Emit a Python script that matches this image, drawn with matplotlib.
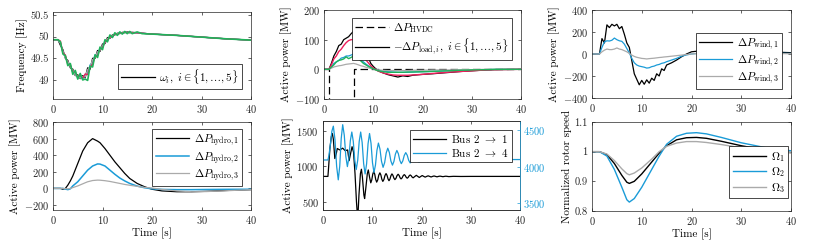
import numpy as np
import matplotlib
matplotlib.use("Agg")
import matplotlib.pyplot as plt

plt.rcParams['font.family'] = 'serif'
plt.rcParams['font.serif'] = ['cmr10']
plt.rcParams['mathtext.fontset'] = 'cm'
plt.rcParams['axes.unicode_minus'] = False
plt.rcParams['axes.formatter.use_mathtext'] = True

BLACK = '#000000'
BLUE = '#1a9bd7'
GRAY = '#aaaaaa'
RED = '#ee1f5c'
GREEN = '#1fb35a'

# ---- frequency of the five generators [Hz]
t_freq = [0, 1, 1.5, 2, 2.5, 3, 3.5, 4, 4.5, 5, 5.5, 6, 6.5, 7, 7.5, 8, 8.5, 9, 9.5, 10,
          10.5, 11, 11.5, 12, 12.5, 13, 13.5, 14, 14.5, 15, 15.5, 16, 17, 18, 20, 25, 30, 35, 40]
f_black = [49.93, 49.93, 49.80, 49.70, 49.50, 49.45, 49.28, 49.25, 49.10, 49.12, 49.03, 49.10, 49.05,
           49.28, 49.25, 49.50, 49.50, 49.68, 49.66, 49.83, 49.84, 49.98, 49.96, 50.04, 50.04, 50.08,
           50.07, 50.10, 50.09, 50.11, 50.09, 50.10, 50.09, 50.08, 50.06, 50.03, 49.99, 49.95, 49.92]
f_red = [49.93, 49.93, 49.90, 49.62, 49.58, 49.35, 49.36, 49.17, 49.20, 49.05, 49.12, 49.04, 49.14,
         49.12, 49.30, 49.36, 49.55, 49.56, 49.72, 49.74, 49.88, 49.92, 49.99, 50.00, 50.06, 50.05,
         50.09, 50.08, 50.11, 50.09, 50.11, 50.09, 50.09, 50.08, 50.06, 50.03, 49.99, 49.95, 49.92]
f_blue = [49.93, 49.93, 49.86, 49.64, 49.55, 49.38, 49.34, 49.18, 49.16, 49.05, 49.09, 49.02, 49.12,
          49.16, 49.35, 49.40, 49.58, 49.59, 49.74, 49.75, 49.90, 49.91, 50.01, 49.99, 50.07, 50.05,
          50.10, 50.08, 50.11, 50.09, 50.11, 50.09, 50.09, 50.08, 50.06, 50.03, 49.99, 49.95, 49.92]
f_gray = [49.93, 49.93, 49.84, 49.67, 49.50, 49.43, 49.30, 49.23, 49.11, 49.10, 49.04, 49.08, 49.07,
          49.24, 49.30, 49.47, 49.52, 49.65, 49.68, 49.80, 49.86, 49.96, 49.97, 50.03, 50.05, 50.07,
          50.08, 50.09, 50.10, 50.10, 50.10, 50.09, 50.09, 50.08, 50.06, 50.03, 49.99, 49.95, 49.92]
f_green = [49.93, 49.93, 49.88, 49.60, 49.56, 49.33, 49.38, 49.13, 49.22, 49.02, 49.15, 49.00, 49.02,
           48.99, 49.32, 49.30, 49.58, 49.52, 49.76, 49.70, 49.93, 49.88, 50.04, 49.98, 50.09, 50.03,
           50.11, 50.06, 50.12, 50.07, 50.12, 50.07, 50.11, 50.07, 50.06, 50.03, 49.99, 49.95, 49.92]

# ---- HVDC and load power [MW]
t_hvdc = [0, 1, 1, 6, 6, 40]
p_hvdc = [0, 0, -1000, -1000, 2, 2]
t_load = [0, 1, 1.5, 2, 2.5, 3, 3.5, 4, 4.5, 5, 5.5, 6, 6.5, 7, 7.5, 8, 8.5, 9, 9.5, 10, 10.5, 11,
          12, 13, 14, 15, 16, 17, 18, 20, 22, 25, 28, 30, 33, 35, 40]
load_black = [0, 0, 20, 45, 60, 80, 85, 100, 105, 110, 120, 128, 100, 110, 75, 70, 45, 40, 20, 10, 2, -5,
              -12, -18, -22, -26, -22, -24, -20, -17, -15, -11, -7, -5, -2, -1, 0]
load_red = [0, 0, 15, 35, 45, 60, 68, 80, 90, 97, 100, 100, 90, 75, 60, 45, 32, 22, 12, 5, -1, -6,
            -12, -16, -19, -20, -20, -20, -19, -17, -14, -10, -7, -5, -2, -1, 0]
load_blue = [0, 0, 8, 20, 25, 30, 38, 40, 45, 45, 48, 52, 45, 40, 32, 25, 18, 12, 7, 3, 0, -3,
             -6, -8, -9, -10, -10, -10, -9, -8, -7, -5, -3, -2, -1, 0, 0]
load_green = [0, 0, 8, 15, 25, 30, 32, 35, 42, 36, 40, 45, 40, 35, 28, 20, 15, 10, 6, 2, -2, -5,
              -8, -10, -10, -10, -10, -9, -9, -8, -7, -5, -3, -2, -1, 0, 0]
load_gray = [0, 0, 4, 8, 10, 12, 13, 15, 17, 18, 19, 20, 18, 15, 12, 10, 7, 5, 3, 1, -1, -2,
             -3, -4, -4, -4, -4, -4, -3, -3, -2, -2, -1, -1, 0, 0, 0]

# ---- wind power [MW]
t_wind = [0, 1.5, 2, 2.5, 3, 3.5, 4, 4.5, 5, 5.5, 6, 6.5, 7, 7.5, 8, 8.5, 9, 9.5, 10, 10.5, 11,
          11.5, 12, 12.5, 13, 13.5, 14, 14.5, 15, 16, 17, 18, 19, 20, 21, 22, 24, 26, 30, 35, 40]
wind_1 = [0, 0, 140, 100, 265, 240, 270, 255, 270, 230, 250, 180, 100, 60, -60, -180, -230, -280, -240,
          -275, -235, -265, -220, -240, -180, -200, -135, -150, -100, -80, -55, -25, 0, 20, 25, 40, 45,
          40, 30, 20, 12]
wind_2 = [0, 0, 60, 110, 120, 118, 125, 145, 130, 120, 115, 90, 50, 10, -40, -80, -100, -110, -115,
          -120, -128, -125, -115, -110, -100, -95, -85, -80, -70, -55, -40, -20, -8, 0, 5, 10, 12, 12,
          10, 8, 5]
wind_3 = [0, 0, 20, 35, 45, 40, 40, 45, 55, 45, 40, 30, 20, 5, -10, -22, -30, -35, -40, -42, -45, -42,
          -40, -38, -35, -32, -30, -27, -25, -20, -15, -10, -5, 0, 3, 5, 5, 5, 5, 4, 3]

# ---- hydro power [MW]
t_hydro = [0, 1.5, 2, 2.5, 3, 3.5, 4, 5, 6, 6.5, 7, 8, 9, 9.5, 10.5, 11.5, 12.5, 13.5, 14.5, 15.5,
           17, 18.5, 20, 22, 25, 28, 31, 35, 40]
hydro_1 = [0, 0, -10, 0, 40, 90, 150, 300, 450, 500, 550, 600, 570, 550, 480, 400, 320, 250, 180, 120,
           60, 20, -10, -30, -40, -40, -35, -25, -15]
hydro_2 = [0, 0, 0, -8, -15, -5, 30, 80, 150, 185, 220, 270, 295, 293, 270, 220, 170, 125, 90, 60,
           28, 8, -5, -12, -15, -15, -13, -11, -10]
hydro_3 = [0, 0, 0, -3, -5, 0, 10, 30, 55, 68, 80, 95, 100, 99, 93, 84, 72, 60, 48, 38, 25, 12, 5,
           -12, -30, -40, -38, -28, -15]

# ---- line flows [MW]
t_bus21 = [0, 1, 1.1, 1.4, 1.7, 1.9, 2.1, 2.4, 2.7, 2.9, 3.4, 4.0, 4.5, 5.0, 5.3, 5.6, 5.9, 6.2, 6.5,
           6.8, 7.05, 7.3, 7.6, 7.8, 8.0, 8.3, 8.45, 8.7, 9.0, 9.2, 9.45, 9.7,
           9.9, 10.1, 10.3, 10.5, 10.7, 10.9, 11.12, 11.33, 11.55, 11.75, 11.95, 12.15, 12.37, 12.58,
           12.8, 13.0, 13.2, 13.4, 13.6, 13.8, 14.0, 14.2, 14.4, 14.6, 14.82, 15.03, 15.25, 15.45, 15.65,
           15.85, 16.07, 16.28, 16.5, 16.7, 16.9, 17.1, 17.3, 17.5, 17.7, 17.9, 18.1, 18.3,
           18.62, 18.95, 19.25, 19.55, 19.85, 20.15, 20.45, 20.75, 21.05, 21.35, 21.65, 21.95, 22.25,
           22.55, 22.85, 23.15, 23.45, 23.75, 24.05, 24.35, 24.65, 24.95, 25.25, 25.55, 26.5, 28, 30, 40]
bus21 = [860, 860, 950, 1250, 1420, 1460, 1380, 1110, 1180, 1250, 1230, 1255, 1220, 1230, 1080, 1180,
         1275, 1200, 900, 500, 250, 600, 900, 960, 850, 600, 550, 700, 900, 950, 850, 770,
         810, 890, 930, 892, 818, 780, 812, 878, 910, 880, 820, 790, 817, 872,
         900, 875, 825, 800, 824, 871, 895, 875, 835, 815, 834, 871, 890, 874, 841,
         825, 840, 870, 885, 872, 847, 835, 846, 869, 880, 870, 850, 840,
         858, 875, 860, 845, 859, 872, 860, 850, 860, 868, 860, 852, 860,
         866, 860, 854, 860, 864, 860, 856, 860, 863, 860, 857, 861, 859, 860, 860]
t_bus24 = [0, 1, 1.2, 1.5, 1.8, 2.1, 2.43, 2.77, 3.1, 3.4, 3.7, 4.0, 4.32, 4.63, 4.95, 5.25, 5.55, 5.85,
           6.15, 6.45, 6.75, 7.05, 7.35, 7.65, 7.95, 8.25, 8.55, 8.85, 9.15, 9.45, 9.75, 10.05, 10.35,
           10.65, 10.95, 11.25, 11.57, 11.88, 12.2, 12.52, 12.83, 13.15, 13.47, 13.78, 14.1, 14.4, 14.7,
           15.0, 15.3, 15.6, 15.9, 16.2, 16.5, 16.8, 17.1, 17.4, 17.7, 18.0, 18.3, 18.6, 18.9, 19.2,
           19.5, 19.8, 20.1, 20.4, 20.7, 21.0, 21.3, 21.6, 21.9, 22.2, 22.5, 22.8, 23.1,
           23.55, 24.0, 24.45, 24.9, 25.35, 25.8, 26.25, 26.7, 27.15, 27.6, 28.05, 28.5, 28.95, 29.4,
           29.85, 30.3, 30.75, 31.2, 31.65, 32.1, 32.55, 33, 33.45, 33.9, 34.35, 34.8, 35.25, 35.7,
           36.15, 36.6, 37.05, 37.5, 38, 40]
bus24 = [4090, 4090, 4150, 4300, 4480, 4550, 4367, 4003, 3820, 4007, 4382, 4570, 4427, 4142, 4000, 4117,
         4352, 4470, 4342, 4087, 3960, 4087, 4342, 4470, 4327, 4042, 3900, 4037, 4312, 4450, 4317, 4052,
         3920, 4020, 4220, 4320, 4237, 4072, 3990, 4055, 4185, 4250, 4192, 4077, 4020, 4070, 4170,
         4220, 4175, 4085, 4040, 4077, 4152, 4190, 4155, 4085, 4050, 4079, 4136, 4165, 4139, 4086,
         4060, 4082, 4127, 4150, 4129, 4086, 4065, 4084, 4121, 4140, 4123, 4089, 4072,
         4100, 4130, 4102, 4076, 4100, 4125, 4101, 4079, 4100, 4120, 4100, 4082, 4098, 4115,
         4098, 4084, 4098, 4112, 4098, 4086, 4097, 4108, 4097, 4088, 4097, 4105, 4097, 4090,
         4097, 4103, 4097, 4091, 4096, 4096]

# ---- normalized rotor speed
t_rotor = [0, 1.5, 3, 4.5, 6, 7, 7.5, 8.5, 10, 12, 13.5, 15, 17, 19, 21, 23, 26, 30, 35, 40]
omega_1 = [1, 1, 0.99, 0.96, 0.92, 0.897, 0.893, 0.9, 0.925, 0.965, 0.995, 1.02, 1.04, 1.047, 1.048,
           1.045, 1.035, 1.02, 1.005, 0.997]
omega_2 = [1, 1, 0.985, 0.94, 0.88, 0.838, 0.83, 0.842, 0.88, 0.94, 0.985, 1.025, 1.052, 1.062, 1.064,
           1.06, 1.048, 1.03, 1.013, 1.003]
omega_3 = [1, 1, 0.992, 0.97, 0.942, 0.926, 0.922, 0.928, 0.945, 0.975, 1.0, 1.018, 1.029, 1.034,
           1.034, 1.031, 1.024, 1.013, 1.003, 0.996]

FS = 7.5
W, H = 830, 242


def make_axes(fig, x0, x1, y0, y1):
    # pixel box -> figure fraction
    ax = fig.add_axes([x0 / W, 1 - y1 / H, (x1 - x0) / W, (y1 - y0) / H])
    ax.tick_params(direction='in', length=2.5, width=0.5, top=True, right=True, labelsize=FS, pad=3,
                   colors='#262626')
    for s in ax.spines.values():
        s.set_linewidth(0.5)
        s.set_color('#262626')
    ax.set_xlim(0, 40)
    ax.set_xticks([0, 10, 20, 30, 40])
    return ax


def legend(ax, loc, anchor):
    leg = ax.legend(loc=loc, bbox_to_anchor=anchor, fontsize=FS + 0.5, fancybox=False, edgecolor='black',
                    framealpha=1, borderaxespad=0, handlelength=3.0, handletextpad=0.4,
                    labelspacing=0.15, borderpad=0.3)
    leg.get_frame().set_linewidth(0.5)
    return leg


fig = plt.figure(figsize=(W / 100, H / 100), dpi=100)

# frequency
ax = make_axes(fig, 53, 251, 12, 99)
ax.plot(t_freq, f_black, color=BLACK, lw=0.9, label=r'$\omega_i,\ i \in \{1,\ldots,5\}$')
ax.plot(t_freq, f_blue, color=BLUE, lw=0.9)
ax.plot(t_freq, f_gray, color=GRAY, lw=0.9)
ax.plot(t_freq, f_red, color=RED, lw=0.9)
ax.plot(t_freq, f_green, color=GREEN, lw=1.2)
ax.set_ylim(48.56, 50.57)
ax.set_yticks([49, 49.5, 50, 50.5])
ax.set_yticklabels(['49', '49.5', '50', '50.5'])
ax.set_ylabel('Frequency [Hz]', fontsize=FS + 0.5, labelpad=2)
legend(ax, 'lower right', (0.955, 0.115))

# HVDC / loads
ax = make_axes(fig, 324, 521, 10, 99)
ax.plot(t_hvdc, p_hvdc, color=BLACK, lw=0.9, ls=(0, (6, 3)), label=r'$\Delta P_{\mathrm{HVDC}}$')
ax.plot(t_load, load_black, color=BLACK, lw=0.9, label=r'$-\Delta P_{\mathrm{load},i},\ i \in \{1,\ldots,5\}$')
ax.plot(t_load, load_blue, color=BLUE, lw=0.9)
ax.plot(t_load, load_gray, color=GRAY, lw=0.9)
ax.plot(t_load, load_red, color=RED, lw=1.0)
ax.plot(t_load, load_green, color=GREEN, lw=1.0)
ax.set_ylim(-100, 200)
ax.set_yticks([-100, 0, 100, 200])
ax.set_ylabel('Active power [MW]', fontsize=FS + 0.5, labelpad=2)
legend(ax, 'upper right', (0.954, 0.91))

# wind
ax = make_axes(fig, 592, 791, 10, 98)
ax.plot(t_wind, wind_1, color=BLACK, lw=0.9, label=r'$\Delta P_{\mathrm{wind},1}$')
ax.plot(t_wind, wind_2, color=BLUE, lw=0.9, label=r'$\Delta P_{\mathrm{wind},2}$')
ax.plot(t_wind, wind_3, color=GRAY, lw=0.9, label=r'$\Delta P_{\mathrm{wind},3}$')
ax.set_ylim(-400, 400)
ax.set_yticks([-400, -200, 0, 200, 400])
ax.set_ylabel('Active power [MW]', fontsize=FS + 0.5, labelpad=2)
legend(ax, 'lower right', (0.955, 0.102))

# hydro
ax = make_axes(fig, 53, 251, 122, 210)
ax.plot(t_hydro, hydro_1, color=BLACK, lw=0.9, label=r'$\Delta P_{\mathrm{hydro},1}$')
ax.plot(t_hydro, hydro_2, color=BLUE, lw=1.1, label=r'$\Delta P_{\mathrm{hydro},2}$')
ax.plot(t_hydro, hydro_3, color=GRAY, lw=0.9, label=r'$\Delta P_{\mathrm{hydro},3}$')
ax.set_ylim(-260, 800)
ax.set_yticks([-200, 0, 200, 400, 600, 800])
ax.set_ylabel('Active power [MW]', fontsize=FS + 0.5, labelpad=2)
ax.set_xlabel('Time [s]', fontsize=FS + 0.5, labelpad=1)
legend(ax, 'upper right', (0.955, 0.92))

# line flows
ax = make_axes(fig, 323, 520, 121, 210)
ax.tick_params(right=False)
ax2 = ax.twinx()
l1, = ax.plot(t_bus21, bus21, color=BLACK, lw=0.9, label=r'Bus 2 $\rightarrow$ 1')
l2, = ax2.plot(t_bus24, bus24, color=BLUE, lw=0.9, label=r'Bus 2 $\rightarrow$ 4')
ax.set_ylim(390, 1635)
ax.set_yticks([500, 1000, 1500])
ax2.set_ylim(3410, 4620)
ax2.set_yticks([3500, 4000, 4500])
ax2.tick_params(direction='in', length=2.5, width=0.5, labelsize=FS, colors=BLUE, pad=2)
for s in ax2.spines.values():
    s.set_linewidth(0.5)
    s.set_color('#262626')
ax2.spines['right'].set_color(BLUE)
ax.set_ylabel('Active power [MW]', fontsize=FS + 0.5, labelpad=2)
ax.set_xlabel('Time [s]', fontsize=FS + 0.5, labelpad=1)
leg = ax2.legend([l1, l2], [l1.get_label(), l2.get_label()], loc='upper right', bbox_to_anchor=(0.957, 0.9),
                 fontsize=FS + 0.5, fancybox=False, edgecolor='black', framealpha=1, borderaxespad=0,
                 handlelength=3.0, handletextpad=0.4, labelspacing=0.15, borderpad=0.3)
leg.get_frame().set_linewidth(0.5)

# rotor speed
ax = make_axes(fig, 592, 791, 122, 211)
ax.plot(t_rotor, omega_1, color=BLACK, lw=1.0, label=r'$\Omega_1$')
ax.plot(t_rotor, omega_2, color=BLUE, lw=1.0, label=r'$\Omega_2$')
ax.plot(t_rotor, omega_3, color=GRAY, lw=1.0, label=r'$\Omega_3$')
ax.set_ylim(0.8, 1.1)
ax.set_yticks([0.8, 0.9, 1.0, 1.1])
ax.set_yticklabels(['0.8', '0.9', '1', '1.1'])
ax.set_ylabel('Normalized rotor speed', fontsize=FS + 0.5, labelpad=2)
ax.set_xlabel('Time [s]', fontsize=FS + 0.5, labelpad=1)
legend(ax, 'lower right', (0.985, 0.146))

fig.savefig('out.png', dpi=100)
